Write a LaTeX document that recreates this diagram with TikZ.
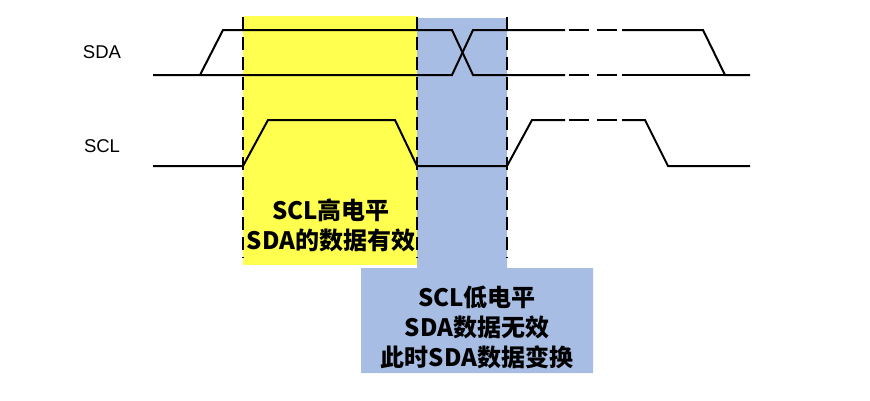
\documentclass[tikz,border=0pt]{standalone}
\usepackage{fontspec}
\setmainfont{Liberation Sans}
\newfontfamily\cjk{Noto Sans CJK SC}
\usepackage{tikz}
\definecolor{highyellow}{RGB}{255,255,80}
\definecolor{lowblue}{RGB}{168,189,227}

\begin{document}
\begin{tikzpicture}
	[x=1pt,y=-1pt,
	wave/.style={line width=2pt,line join=miter},
	gapdash/.style={wave,dash pattern=on 20pt off 8pt,dash phase=24pt},
	edge/.style={line width=1.3pt,dash pattern=on 13pt off 7pt},
	signame/.style={font=\fontsize{18.5}{20}\selectfont},
	boxtext/.style={align=center,font=\cjk\bfseries\fontsize{24}{30}\selectfont}]
	\useasboundingbox (0,0) rectangle (870,400);
	\fill[highyellow] (243,16) rectangle (417,265);
	\fill[lowblue] (417,18) -- (507,18) -- (507,268) -- (593,268) -- (593,373)
		-- (361,373) -- (361,268) -- (417,268) -- cycle;
	\foreach \x in {243,417,507}
		\draw[edge] (\x,17) -- (\x,258);
	\node[signame] (sda) at (102,52) {SDA};
	\node[signame] (scl) at (102,146) {SCL};
	\draw[wave] (153,75) -- (452,75) -- (473,30) -- (565,30);
	\draw[wave] (200,75) -- (223,30) -- (452,30) -- (473,75) -- (565,75);
	\draw[gapdash] (565,30) -- (622,30);
	\draw[gapdash] (565,75) -- (622,75);
	\draw[wave] (622,30) -- (703,30) -- (725,75) -- (750,75);
	\draw[wave] (622,75) -- (725,75);
	\draw[wave] (153,166) -- (243,166) -- (268,120) -- (395,120) -- (417,166)
		-- (507,166) -- (532,120) -- (565,120);
	\draw[gapdash] (565,120) -- (622,120);
	\draw[wave] (622,120) -- (645,120) -- (668,166) -- (750,166);
	\node[boxtext] (hightext) at (331,225) {SCL高电平\\SDA的数据有效};
	\node[boxtext] (lowtext) at (477,327) {SCL低电平\\SDA数据无效\\此时SDA数据变换};
\end{tikzpicture}
\end{document}
